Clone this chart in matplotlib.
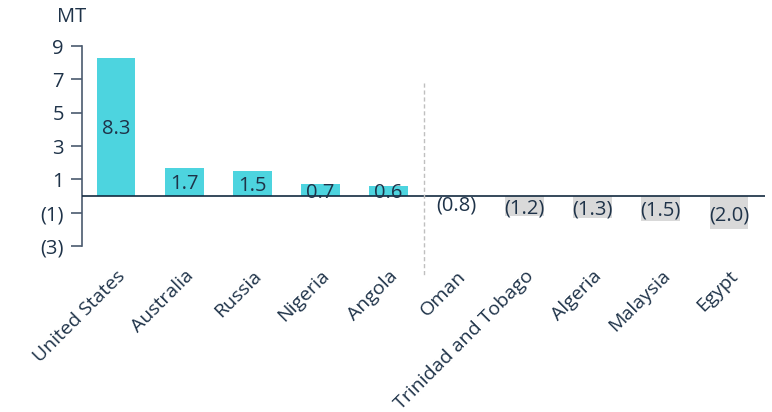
import matplotlib
matplotlib.use("Agg")
import matplotlib.pyplot as plt

countries = ["United States", "Australia", "Russia", "Nigeria", "Angola",
             "Oman", "Trinidad and Tobago", "Algeria", "Malaysia", "Egypt"]
values = [8.3, 1.7, 1.5, 0.7, 0.6, -0.8, -1.2, -1.3, -1.5, -2.0]
yticks = [9, 7, 5, 3, 1, -1, -3]
ytick_labels = ["9", "7", "5", "3", "1", "(1)", "(3)"]

plt.rcParams['font.family'] = ['Open Sans', 'DejaVu Sans']
txt = "#1f3349"
spine = "#4a5a6e"
fs = 14.5

fig = plt.figure(figsize=(7.72, 4.12), dpi=100)
ax = fig.add_axes([82/772, 1-246/412, (765-82)/772, 200/412])

colors = []
for i, v in enumerate(values):
    if v >= 0:
        colors.append("#4dd4df")
    elif countries[i] == "Oman":
        colors.append("white")
    else:
        colors.append("#d9d9d9")
x = list(range(len(values)))
ax.bar(x, values, width=0.57, color=colors, zorder=2)
ax.axhline(0, color="#132a40", lw=1.2, zorder=3)

for xi, v in zip(x, values):
    lab = f"{v:.1f}" if v >= 0 else f"({abs(v):.1f})"
    ax.text(xi, v / 2 - 0.15, lab, ha="center", va="center",
            fontsize=fs, color=txt, zorder=4)

ax.set_xlim(-0.5, 9.53)
ax.set_ylim(-3, 9)
ax.set_yticks(yticks)
ax.set_yticklabels(ytick_labels, fontsize=fs, color=txt)
ax.tick_params(axis="y", direction="out", length=8, width=1.2, color=spine, pad=5)
ax.set_xticks(x)
ax.set_xticklabels(countries, rotation=45, ha="right", va="top",
                   rotation_mode="anchor", fontsize=14, color=txt)
ax.tick_params(axis="x", length=0, pad=15)
for s in ["top", "right", "bottom"]:
    ax.spines[s].set_visible(False)
ax.spines["left"].set_color(spine)
ax.spines["left"].set_linewidth(1.2)

# dashed separator
fig.add_artist(plt.Line2D([424/772, 424/772], [1-83/412, 1-275/412],
                          color="#bfbfbf", lw=1, ls=(0, (3, 2))))
fig.text(57/772, 1-17/412, "MT", fontsize=fs, color=txt, ha="left", va="center")

fig.savefig("out.png", dpi=100)
